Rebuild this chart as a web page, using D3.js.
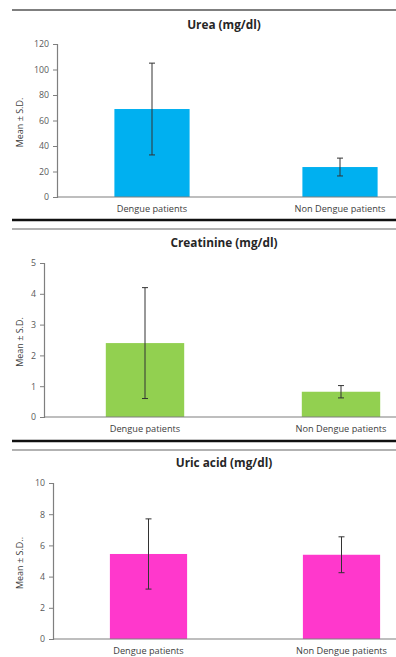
<!DOCTYPE html>
<html>
<head>
<meta charset="utf-8">
<script src="https://cdn.jsdelivr.net/npm/d3@7"></script>
<style>
  body { margin: 0; background: #fff; }
  svg { display: block; font-family: "Open Sans", sans-serif; }
</style>
</head>
<body>
<div id="chart"></div>
<script>
// values (mean and SD per group)
const categories = ["Dengue patients", "Non Dengue patients"];

const ureaMean = [69, 23.5];
const ureaSD = [36, 7];
const ureaTicks = [0, 20, 40, 60, 80, 100, 120];

const creatMean = [2.4, 0.82];
const creatSD = [1.8, 0.2];
const creatTicks = [0, 1, 2, 3, 4, 5];

const uricMean = [5.45, 5.4];
const uricSD = [2.25, 1.15];
const uricTicks = [0, 2, 4, 6, 8, 10];

const W = 396, H = 657;

const svg = d3.select("#chart").append("svg")
  .attr("width", W).attr("height", H);

// panel layouts
const panels = [
  { title: "Urea (mg/dl)", ylab: "Mean \u00b1 S.D.", mean: ureaMean, sd: ureaSD, ticks: ureaTicks,
    color: "#00b0f0", titleY: 29, top: 44, bottom: 197, axisX: 57, x0: 58, x1: 434 },
  { title: "Creatinine (mg/dl)", ylab: "Mean \u00b1 S.D.", mean: creatMean, sd: creatSD, ticks: creatTicks,
    color: "#92d050", titleY: 247, top: 263, bottom: 417, axisX: 44, x0: 47, x1: 439 },
  { title: "Uric acid (mg/dl)", ylab: "Mean \u00b1 S.D..", mean: uricMean, sd: uricSD, ticks: uricTicks,
    color: "#ff38cc", titleY: 467, top: 483, bottom: 639, axisX: 53, x0: 52, x1: 438 }
];

// frame lines between panels
svg.append("line").attr("x1", 12).attr("x2", W).attr("y1", 10).attr("y2", 10)
  .attr("stroke", "#555").attr("stroke-width", 1.3);
[220, 441].forEach(y => {
  svg.append("line").attr("x1", 12).attr("x2", W).attr("y1", y).attr("y2", y)
    .attr("stroke", "#111").attr("stroke-width", 2.5);
  svg.append("line").attr("x1", 12).attr("x2", W).attr("y1", y + 9).attr("y2", y + 9)
    .attr("stroke", "#666").attr("stroke-width", 1.2);
});

panels.forEach(p => {
  const g = svg.append("g");

  const y = d3.scaleLinear()
    .domain([0, d3.max(p.ticks)])
    .range([p.bottom, p.top]);

  const x = d3.scaleBand()
    .domain(categories)
    .range([p.x0, p.x1])
    .padding(0);

  const bw = x.bandwidth() * 0.4;

  g.append("text")
    .attr("x", 224).attr("y", p.titleY)
    .attr("text-anchor", "middle")
    .attr("font-size", 11.8).attr("font-weight", "bold")
    .attr("fill", "#262626")
    .text(p.title);

  // bars
  g.selectAll("rect.bar")
    .data(categories)
    .join("rect")
    .attr("class", "bar")
    .attr("x", d => x(d) + (x.bandwidth() - bw) / 2)
    .attr("width", bw)
    .attr("y", (d, i) => y(p.mean[i]))
    .attr("height", (d, i) => y(0) - y(p.mean[i]))
    .attr("fill", p.color);

  // y axis
  const yAxis = g.append("g")
    .attr("transform", `translate(${p.axisX},0)`)
    .call(d3.axisLeft(y).tickValues(p.ticks).tickSize(4).tickPadding(4).tickFormat(d3.format("d")));
  yAxis.select(".domain").attr("stroke", "#7f7f7f").attr("stroke-width", 1.2);
  yAxis.selectAll(".tick line").attr("stroke", "#7f7f7f");
  yAxis.selectAll(".tick text").attr("fill", "#595959").attr("font-size", 8.8)
    .attr("font-family", "Open Sans, sans-serif");

  // x axis baseline, runs off the right edge
  g.append("line")
    .attr("x1", p.axisX).attr("x2", W)
    .attr("y1", y(0)).attr("y2", y(0))
    .attr("stroke", "#7f7f7f").attr("stroke-width", 1.2);

  g.selectAll("text.cat")
    .data(categories)
    .join("text")
    .attr("class", "cat")
    .attr("x", d => x(d) + x.bandwidth() / 2)
    .attr("y", p.bottom + 14.5)
    .attr("text-anchor", "middle")
    .attr("font-size", 9.2)
    .attr("fill", "#404040")
    .text(d => d);

  // error bars
  const eb = g.selectAll("g.err")
    .data(categories)
    .join("g")
    .attr("class", "err")
    .attr("stroke", "#333")
    .attr("stroke-width", 1);
  eb.append("line")
    .attr("x1", d => x(d) + x.bandwidth() / 2)
    .attr("x2", d => x(d) + x.bandwidth() / 2)
    .attr("y1", (d, i) => y(p.mean[i] + p.sd[i]))
    .attr("y2", (d, i) => y(p.mean[i] - p.sd[i]));
  [1, -1].forEach(s => {
    eb.append("line")
      .attr("x1", d => x(d) + x.bandwidth() / 2 - 3)
      .attr("x2", d => x(d) + x.bandwidth() / 2 + 3)
      .attr("y1", (d, i) => y(p.mean[i] + s * p.sd[i]))
      .attr("y2", (d, i) => y(p.mean[i] + s * p.sd[i]));
  });

  // y axis title
  const cy = (p.top + p.bottom) / 2 + 2;
  g.append("text")
    .attr("transform", `translate(23,${cy}) rotate(-90)`)
    .attr("text-anchor", "middle")
    .attr("font-size", 9)
    .attr("fill", "#404040")
    .text(p.ylab);
});
</script>
</body>
</html>
